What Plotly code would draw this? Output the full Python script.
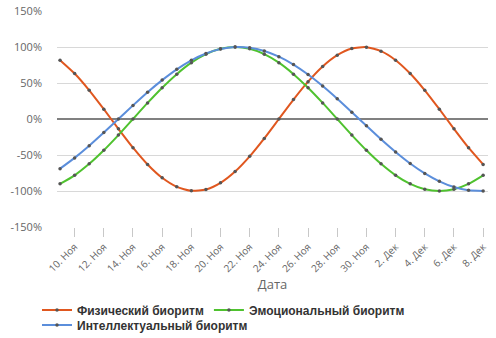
import plotly.graph_objects as go
import pandas as pd

dates = pd.date_range("2013-11-09", "2013-12-08", freq="D")

physical = [81.7, 63.1, 39.8, 13.6, -13.6, -39.8, -63.1, -81.7, -94.2, -99.7,
            -97.9, -88.7, -73.0, -51.9, -27.0, 0.0, 27.0, 51.9, 73.0, 88.7,
            97.9, 99.8, 94.2, 81.7, 63.1, 39.8, 13.6, -13.6, -39.8, -63.1]
emotional = [-90.1, -78.2, -62.3, -43.4, -22.3, 0.0, 22.3, 43.4, 62.3, 78.2,
             90.1, 97.5, 100.0, 97.5, 90.1, 78.2, 62.3, 43.4, 22.3, 0.0,
             -22.3, -43.4, -62.3, -78.2, -90.1, -97.5, -100.0, -97.5, -90.1, -78.2]
intellectual = [-69.0, -54.0, -37.2, -18.9, 0.0, 18.9, 37.2, 54.0, 69.0, 81.5,
                91.0, 97.2, 99.9, 99.0, 94.5, 86.6, 75.6, 61.8, 45.8, 28.2,
                9.5, -9.5, -28.2, -45.8, -61.8, -75.6, -86.6, -94.5, -99.0, -99.9]

series_names = ["Физический биоритм", "Эмоциональный биоритм", "Интеллектуальный биоритм"]
series_colors = ["#E0571F", "#4FC22F", "#5B8EDB"]
series_values = [physical, emotional, intellectual]
series_legends = ["legend", "legend", "legend2"]

tick_dates = pd.date_range("2013-11-10", "2013-12-08", freq="2D")
month_ru = {11: "Ноя", 12: "Дек"}
tick_labels = [f"{d.day}. {month_ru[d.month]}" for d in tick_dates]
y_ticks = [-150, -100, -50, 0, 50, 100, 150]
y_labels = [f"{v}%" for v in y_ticks]

fig = go.Figure()
for name, color, vals, lg in zip(series_names, series_colors, series_values, series_legends):
    fig.add_trace(go.Scatter(
        x=dates, y=vals, name=name, mode="lines+markers", legend=lg,
        line=dict(color=color, width=2, shape="spline", smoothing=0.6),
        marker=dict(color="#555555", size=3.5),
    ))

legend_font = dict(size=12, color="#333333", family="Liberation Sans, Arial, sans-serif", weight="bold")
legend_common = dict(
    orientation="h", xref="container", yref="container",
    xanchor="left", yanchor="middle", font=legend_font,
    borderwidth=0, bgcolor="rgba(0,0,0,0)", itemwidth=30,
)

fig.update_layout(
    width=496, height=338,
    margin=dict(l=57, r=8, t=11, b=111, autoexpand=False),
    paper_bgcolor="white", plot_bgcolor="white",
    font=dict(family="Open Sans, DejaVu Sans, sans-serif", color="#666666", size=11),
    showlegend=True,
    legend=dict(x=37 / 496, y=1 - 310 / 338, **legend_common),
    legend2=dict(x=37 / 496, y=1 - 325 / 338, **legend_common),
)
fig.update_xaxes(
    range=[pd.Timestamp("2013-11-08 19:00"), pd.Timestamp("2013-12-08 08:00")],
    tickvals=tick_dates, ticktext=tick_labels, tickangle=-45,
    ticks="outside", ticklen=9, tickcolor="#C8C8C8", tickwidth=1,
    showgrid=False, showline=False, zeroline=False, automargin=False,
    tickfont=dict(size=10, color="#666666"),
    title=dict(text="Дата", font=dict(size=13, color="#666666"), standoff=2),
)
fig.update_yaxes(
    range=[-150, 150], tickvals=y_ticks, ticktext=y_labels,
    showgrid=True, gridcolor="#D8D8D8", gridwidth=1,
    zeroline=True, zerolinecolor="#808080", zerolinewidth=2,
    showline=False, ticks="", ticklabelstandoff=14, automargin=False,
    tickfont=dict(size=11, color="#666666"),
)

fig.write_html("out.html")
